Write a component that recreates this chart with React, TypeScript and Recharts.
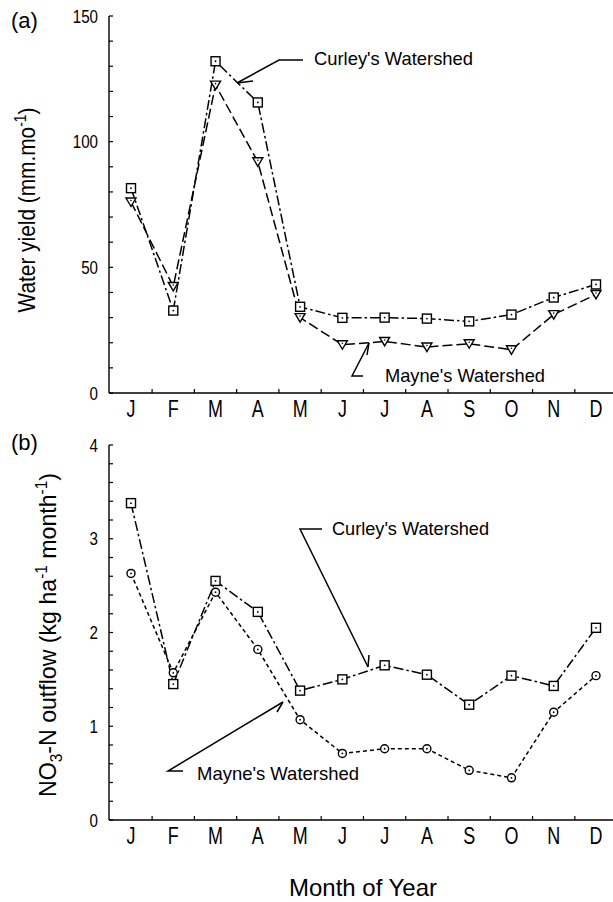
import React from "react";
import { LineChart, Line, XAxis, YAxis } from "recharts";

const months = ["J", "F", "M", "A", "M", "J", "J", "A", "S", "O", "N", "D"];

// (a) water yield, mm per month
const curleyYield = [81.5, 32.8, 132, 115.6, 34.3, 29.9, 30, 29.6, 28.5, 31.2, 38, 43.2];
const mayneYield = [76, 42.4, 122.5, 92, 30, 19.2, 20.5, 18.3, 19.6, 17.2, 31.2, 39.2];
const yieldTicks = [0, 10, 20, 30, 40, 50, 60, 70, 80, 90, 100, 110, 120, 130, 140, 150];

// (b) NO3-N outflow, kg/ha/month
const curleyNO3 = [3.38, 1.45, 2.55, 2.22, 1.38, 1.5, 1.65, 1.55, 1.23, 1.54, 1.43, 2.05];
const mayneNO3 = [2.63, 1.57, 2.43, 1.82, 1.07, 0.71, 0.76, 0.76, 0.53, 0.45, 1.15, 1.54];
const no3Ticks = [0, 0.2, 0.4, 0.6, 0.8, 1, 1.2, 1.4, 1.6, 1.8, 2, 2.2, 2.4, 2.6, 2.8, 3, 3.2, 3.4, 3.6, 3.8, 4];

const yieldData = months.map((m, i) => ({ m, curley: curleyYield[i], mayne: mayneYield[i] }));
const no3Data = months.map((m, i) => ({ m, curley: curleyNO3[i], mayne: mayneNO3[i] }));

const NARROW = "'Liberation Sans Narrow', 'Arial Narrow', 'Liberation Sans', sans-serif";
const SANS = "'Liberation Sans', Arial, sans-serif";
const HALF = 21.1; // half the spacing between months, for the boundary ticks

function YTick(props: any) {
  const { x, y, payload, major } = props;
  const v = payload.value;
  const isMajor = Math.abs(v / major - Math.round(v / major)) < 1e-6;
  return (
    <g>
      <line x1={x} x2={x + 4} y1={y} y2={y} stroke="#000" strokeWidth={1.2} />
      {isMajor && (
        <text transform={`translate(${x - 11},${y + 6.5}) scale(0.82,1)`} textAnchor="end"
          fontFamily={SANS} fontSize={18.5} fill="#000">
          {v}
        </text>
      )}
    </g>
  );
}

function XTick(props: any) {
  const { x, y, payload } = props;
  return (
    <g>
      <line x1={x + HALF} x2={x + HALF} y1={y} y2={y - 4} stroke="#000" strokeWidth={1.2} />
      <text transform={`translate(${x},${y + 24}) scale(0.78,1)`} textAnchor="middle"
        fontFamily={SANS} fontSize={23} fill="#000">
        {payload.value}
      </text>
    </g>
  );
}

const Square = (p: any) => (
  <g key={p.index}>
    <rect x={p.cx - 4.5} y={p.cy - 4.5} width={9} height={9} fill="#fff" stroke="#000" strokeWidth={1.4} />
    <circle cx={p.cx} cy={p.cy} r={0.9} fill="#000" />
  </g>
);

const Triangle = (p: any) => (
  <g key={p.index}>
    <polygon
      points={`${p.cx - 5},${p.cy - 4} ${p.cx + 5},${p.cy - 4} ${p.cx},${p.cy + 4.5}`}
      fill="#fff"
      stroke="#000"
      strokeWidth={1.4}
    />
    <circle cx={p.cx} cy={p.cy - 1.5} r={0.8} fill="#000" />
  </g>
);

const Circle = (p: any) => (
  <g key={p.index}>
    <circle cx={p.cx} cy={p.cy} r={4} fill="#fff" stroke="#000" strokeWidth={1.4} />
    <circle cx={p.cx} cy={p.cy} r={0.9} fill="#000" />
  </g>
);

const axisStroke = { stroke: "#000", strokeWidth: 1.4 };

export default function App() {
  return (
    <div style={{ position: "absolute", left: 0, top: 0, width: 613, height: 902, background: "#fff", overflow: "hidden" }}>
      {/* (a) water yield */}
      <div style={{ position: "absolute", left: 0, top: 0 }}>
        <LineChart width={613} height={430} data={yieldData} margin={{ top: 16, right: 0, left: 0, bottom: 0 }}>
          <XAxis
            dataKey="m"
            height={37}
            padding={{ left: 22, right: 17 }}
            axisLine={axisStroke}
            tickLine={false}
            tickSize={0}
            tickMargin={0}
            interval={0}
            tick={(p: any) => <XTick {...p} />}
          />
          <YAxis
            width={109}
            domain={[0, 150]}
            ticks={yieldTicks}
            interval={0}
            axisLine={axisStroke}
            tickLine={false}
            tickSize={0}
            tickMargin={0}
            tick={(p: any) => <YTick {...p} major={50} />}
          />
          <Line
            dataKey="curley"
            stroke="#000"
            strokeWidth={1.5}
            strokeDasharray="10 3 2.5 3"
            dot={(p: any) => <Square {...p} key={p.index} />}
            isAnimationActive={false}
          />
          <Line
            dataKey="mayne"
            stroke="#000"
            strokeWidth={1.5}
            strokeDasharray="10 4"
            dot={(p: any) => <Triangle {...p} key={p.index} />}
            isAnimationActive={false}
          />
        </LineChart>
      </div>

      {/* (b) NO3-N outflow */}
      <div style={{ position: "absolute", left: 0, top: 420 }}>
        <LineChart width={613} height={437} data={no3Data} margin={{ top: 25, right: 0, left: 0, bottom: 0 }}>
          <XAxis
            dataKey="m"
            height={37}
            padding={{ left: 22, right: 17 }}
            axisLine={axisStroke}
            tickLine={false}
            tickSize={0}
            tickMargin={0}
            interval={0}
            tick={(p: any) => <XTick {...p} />}
          />
          <YAxis
            width={109}
            domain={[0, 4]}
            ticks={no3Ticks}
            interval={0}
            axisLine={axisStroke}
            tickLine={false}
            tickSize={0}
            tickMargin={0}
            tick={(p: any) => <YTick {...p} major={1} />}
          />
          <Line
            dataKey="curley"
            stroke="#000"
            strokeWidth={1.5}
            strokeDasharray="10 3 2.5 3"
            dot={(p: any) => <Square {...p} key={p.index} />}
            isAnimationActive={false}
          />
          <Line
            dataKey="mayne"
            stroke="#000"
            strokeWidth={1.5}
            strokeDasharray="4 3"
            dot={(p: any) => <Circle {...p} key={p.index} />}
            isAnimationActive={false}
          />
        </LineChart>
      </div>

      {/* titles and leader annotations */}
      <svg width={613} height={902} style={{ position: "absolute", left: 0, top: 0, pointerEvents: "none" }}>
        <g fill="#000" stroke="none">
          <text x={11} y={28} fontFamily={SANS} fontSize={22}>(a)</text>
          <text x={11} y={450} fontFamily={SANS} fontSize={22}>(b)</text>

          <text transform="translate(35,210) rotate(-90)" textAnchor="middle" fontFamily={NARROW} fontSize={24}
            textLength={205} lengthAdjust="spacingAndGlyphs">
            Water yield (mm.mo<tspan fontSize={16} dy={-9}>-1</tspan><tspan dy={9}>)</tspan>
          </text>

          <text transform="translate(56,635) rotate(-90)" textAnchor="middle" fontFamily={NARROW} fontSize={24}
            textLength={324} lengthAdjust="spacingAndGlyphs">
            NO<tspan fontSize={16} dy={6}>3</tspan><tspan dy={-6}>-N outflow (kg ha</tspan>
            <tspan fontSize={16} dy={-9}>-1</tspan><tspan dy={9}> month</tspan>
            <tspan fontSize={16} dy={-9}>-1</tspan><tspan dy={9}>)</tspan>
          </text>

          <text x={363} y={896} textAnchor="middle" fontFamily={SANS} fontSize={24} textLength={148}
            lengthAdjust="spacingAndGlyphs">Month of Year</text>

          <text x={314} y={65} fontFamily={SANS} fontSize={18.5} textLength={159} lengthAdjust="spacingAndGlyphs">Curley's Watershed</text>
          <text x={385} y={382} fontFamily={SANS} fontSize={18.5} textLength={160} lengthAdjust="spacingAndGlyphs">Mayne's Watershed</text>
          <text x={332} y={535} fontFamily={SANS} fontSize={18.5} textLength={157} lengthAdjust="spacingAndGlyphs">Curley's Watershed</text>
          <text x={197} y={780} fontFamily={SANS} fontSize={18.5} textLength={162} lengthAdjust="spacingAndGlyphs">Mayne's Watershed</text>
        </g>
        <g fill="none" stroke="#000" strokeWidth={1.5}>
          <polyline points="303,60 279,60 237,83" />
          <line x1={237} y1={83} x2={253} y2={81} />
          <polyline points="363,376 352,376 369,343" />
          <line x1={369} y1={343} x2={367} y2={355} />
          <polyline points="322,529 300,529 368,667" />
          <line x1={369} y1={655} x2={368} y2={667} />
          <polyline points="183,771 168,771 283,702" />
          <line x1={283} y1={702} x2={277} y2={712} />
        </g>
      </svg>
    </div>
  );
}
